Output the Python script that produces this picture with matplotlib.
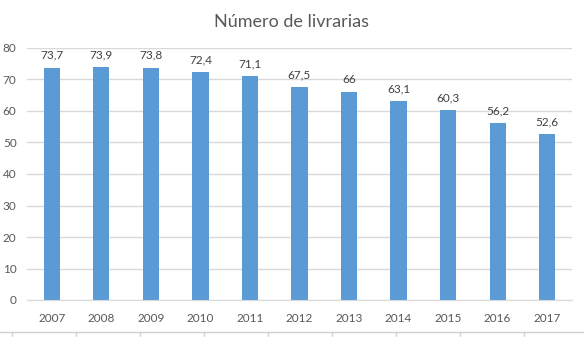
import matplotlib
matplotlib.use("Agg")
import matplotlib.pyplot as plt
from matplotlib.lines import Line2D

years = ["2007", "2008", "2009", "2010", "2011", "2012", "2013", "2014", "2015", "2016", "2017"]
livrarias = [73.7, 73.9, 73.8, 72.4, 71.1, 67.5, 66, 63.1, 60.3, 56.2, 52.6]
y_ticks = [0, 10, 20, 30, 40, 50, 60, 70, 80]

plt.rcParams['font.family'] = ['Lato', 'DejaVu Sans']
text_color = "#595959"
bar_color = "#5B9BD5"
grid_color = "#D9D9D9"

W, H = 584, 337
fig = plt.figure(figsize=(W / 100, H / 100), dpi=100)
ax = fig.add_axes([27 / W, 1 - 300 / H, (572 - 27) / W, (300 - 48) / H])

x = range(len(years))
bars = ax.bar(x, livrarias, width=0.33, color=bar_color, zorder=3)

def fmt(v):
    s = f"{v:.1f}".replace(".", ",")
    return s[:-2] if s.endswith(",0") else s

for xi, v in zip(x, livrarias):
    ax.annotate(fmt(v), (xi, v), xytext=(0, 5), textcoords="offset points",
                ha="center", va="bottom", fontsize=8.5, color="#404040")

ax.set_xlim(-0.5, len(years) - 0.5)
ax.set_ylim(0, 80)
ax.set_yticks(y_ticks)
ax.set_yticklabels([str(t) for t in y_ticks])
ax.set_xticks(list(x))
ax.set_xticklabels(years)
ax.tick_params(axis="both", length=0, labelsize=8.5, colors=text_color)
ax.tick_params(axis="y", pad=7.5)
ax.tick_params(axis="x", pad=9)
ax.grid(axis="y", color=grid_color, linewidth=1, zorder=0)
for side in ["top", "right", "left"]:
    ax.spines[side].set_visible(False)
ax.spines["bottom"].set_color(grid_color)
ax.spines["bottom"].set_zorder(4)

fig.text(0.5, 1 - 22 / H, "Número de livrarias", ha="center", va="center",
         fontsize=13, color=text_color)

# ruler strip along the lower edge
ry = 1 - 332 / H
fig.add_artist(Line2D([0, 1], [ry, ry], transform=fig.transFigure,
                      color="#D0D0D0", linewidth=1))
for px in range(12, W, 64):
    fig.add_artist(Line2D([px / W, px / W], [ry, 0], transform=fig.transFigure,
                          color="#D0D0D0", linewidth=1))

fig.savefig("out.png", dpi=100, facecolor="white")
